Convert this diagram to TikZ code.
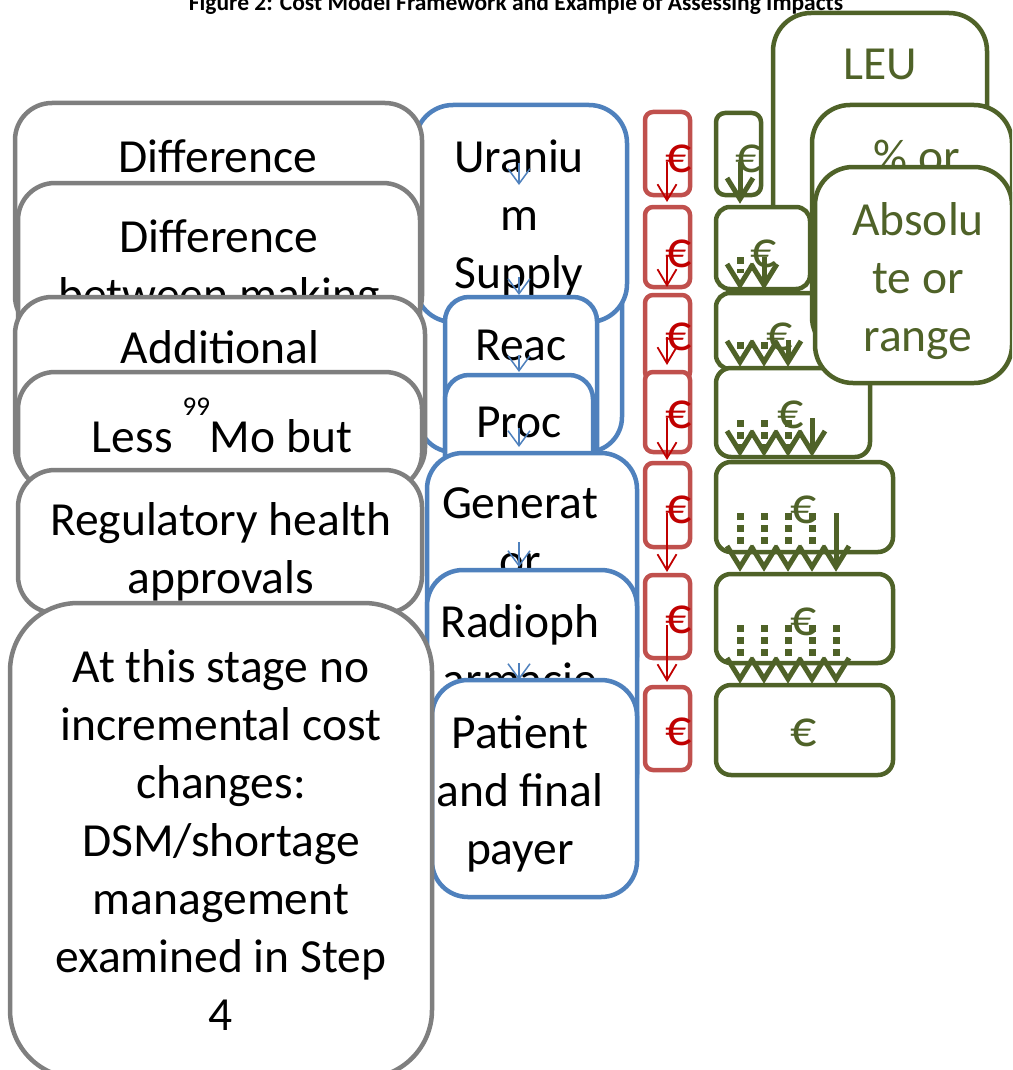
\documentclass[tikz,border=0pt]{standalone}
\usepackage{fontspec}
\setmainfont{Carlito}
\usetikzlibrary{arrows.meta}
\definecolor{grayb}{HTML}{7F7F7F}
\definecolor{blueb}{HTML}{4F81BD}
\definecolor{redb}{HTML}{C0504D}
\definecolor{redt}{HTML}{C00000}
\definecolor{greenb}{HTML}{4F6228}
\tikzset{
  bx/.style={draw, fill=white, line width=4.5pt, inner sep=0pt, outer sep=0pt, anchor=north west},
  graybox/.style={bx, draw=grayb},
  bluebox/.style={bx, draw=blueb},
  redbox/.style={bx, draw=redb},
  greenbox/.style={bx, draw=greenb},
  txt/.style={font=\fontsize{47.5}{58}\selectfont, align=center, anchor=base, inner sep=0pt},
  gtxt/.style={txt, text=greenb},
  eur/.style={txt, font=\fontsize{52}{58}\selectfont},
  geur/.style={eur, text=greenb},
  reur/.style={eur, text=redt},
  barrow/.style={draw=blueb, line width=1.5pt, -{Straight Barb[length=15pt,width=22pt]}},
  rarrow/.style={draw=redt, line width=1.8pt, -{Straight Barb[length=16pt,width=19pt]}},
  gline/.style={draw=greenb, line width=5pt},
  gdots/.style={draw=greenb, line width=7pt, dash pattern=on 7pt off 5pt},
  ghead/.style={draw=greenb, line width=5pt, line join=miter},
}
% box: name, style, left, top, width, height, corner radius
\newcommand\mybox[7]{\node[#2, minimum width=#5pt, minimum height=#6pt, rounded corners=#7pt] (#1) at (#3,#4) {};}
\newcommand\vhead[2]{\draw[ghead] (#1-13,#2-24) -- (#1,#2-3) -- (#1+13,#2-24);}
\begin{document}
\begin{tikzpicture}[x=1pt,y=-1pt]
\useasboundingbox (0,0) rectangle (1012,1070);
\clip (0,0) rectangle (1012,1070);
% title (cut at the top edge, as in the reference)
\node[font=\fontsize{23.5}{28}\selectfont\bfseries, anchor=base, inner sep=0pt] (title) at (516,11) {Figure 2: Cost Model Framework and Example of Assessing Impacts};

% ---------- blue column ----------
\mybox{hb}{bluebox}{418}{250}{204}{202}{35}
\mybox{b1}{bluebox}{415}{105}{212}{217}{38}
\node[txt] (b1t) at (519,288) {Uraniu\\m\\Supply};
\mybox{b2}{bluebox}{445}{297}{152}{183}{24}
\node[txt] (b2t) at (521,360) {Reac};
\mybox{b3}{bluebox}{445}{375}{148}{105}{24}
\node[txt] (b3t) at (519,437) {Proc};
\mybox{b4}{bluebox}{427}{453}{210}{240}{36}
\node[txt] (b4t) at (520,576) {Generat\\or};
\mybox{b5}{bluebox}{427}{570}{210}{240}{36}
\node[txt] (b5t) at (520,695) {Radioph\\armacie};
\mybox{b6}{bluebox}{432}{680}{205}{217}{36}
\node[txt] (b6t) at (520,864) {Patient\\and final\\payer};
\coordinate (ba1) at (519,163); \coordinate (bb1) at (519,185);
\coordinate (ba2) at (519,277); \coordinate (bb2) at (519,295);
\coordinate (ba3) at (519,355); \coordinate (bb3) at (519,372);
\coordinate (ba4) at (519,428); \coordinate (bb4) at (519,447);
\coordinate (ba5) at (519,542); \coordinate (bb5) at (519,567);
\coordinate (ba6) at (519,663); \coordinate (bb6) at (519,680);
\foreach \i in {1,...,6} \draw[barrow] (ba\i) -- (bb\i);

% ---------- gray column ----------
\mybox{g1}{graybox}{15}{103}{407}{230}{37}
\node[txt] (g1t) at (218,172) {Difference};
\mybox{g2}{graybox}{18}{183}{402}{230}{37}
\node[txt] (g2t) at (219,310) {Difference\\between making};
\mybox{g3}{graybox}{15}{297}{410}{188}{37}
\node[txt] (g3t) at (220,363) {Additional};
\mybox{g4}{graybox}{18}{372}{404}{118}{37}
\node[txt] (g4t) at (222,452) {Less\hspace{10pt}\raisebox{37pt}{\fontsize{27}{27}\selectfont 99}Mo but};
\mybox{g5}{graybox}{18}{470}{404}{143}{37}
\node[txt] (g5t) at (221,593) {Regulatory health\\approvals};
\mybox{g6}{graybox}{10}{603}{422}{475}{68}
\node[txt] (g6t) at (221,1030) {At this stage no\\incremental cost\\changes:\\DSM/shortage\\management\\examined in Step\\4};

% ---------- red column ----------
\mybox{r1}{redbox}{645}{112}{45}{83}{8}
\mybox{r2}{redbox}{645}{207}{45}{80}{8}
\mybox{r3}{redbox}{645}{295}{45}{85}{8}
\mybox{r4}{redbox}{645}{372}{45}{80}{8}
\mybox{r5}{redbox}{645}{463}{45}{84}{8}
\mybox{r6}{redbox}{645}{575}{45}{83}{8}
\mybox{r7}{redbox}{645}{687}{45}{83}{8}
\node[reur] (r1t) at (679,172) {€};
\node[reur] (r2t) at (679,267) {€};
\node[reur] (r3t) at (679,350) {€};
\node[reur] (r4t) at (679,428) {€};
\node[reur] (r5t) at (679,523) {€};
\node[reur] (r6t) at (679,633) {€};
\node[reur] (r7t) at (679,745) {€};
\coordinate (ra1) at (667,162); \coordinate (rb1) at (667,202);
\coordinate (ra2) at (667,255); \coordinate (rb2) at (667,287);
\coordinate (ra3) at (667,337); \coordinate (rb3) at (667,365);
\coordinate (ra4) at (667,418); \coordinate (rb4) at (667,460);
\coordinate (ra5) at (667,513); \coordinate (rb5) at (667,572);
\coordinate (ra6) at (667,625); \coordinate (rb6) at (667,682);
\foreach \i in {1,...,6} \draw[rarrow] (ra\i) -- (rb\i);

% ---------- green column ----------
\mybox{leu}{greenbox}{773}{13}{214}{240}{38}
\node[gtxt] (leut) at (880,80) {LEU};
\mybox{gr1}{greenbox}{716}{113}{45}{82}{9}
\mybox{gr2}{greenbox}{716}{207}{94}{82}{14}
\mybox{gr3}{greenbox}{716}{293}{124}{76}{14}
\mybox{gr4}{greenbox}{716}{368}{154}{89}{15}
\mybox{gr5}{greenbox}{716}{462}{177}{90}{15}
\mybox{gr6}{greenbox}{716}{574}{177}{89}{15}
\mybox{gr7}{greenbox}{716}{685}{177}{90}{15}
\node[geur] (gr1t) at (749,172) {€};
\node[geur] (gr2t) at (764,267) {€};
\node[geur] (gr3t) at (780,350) {€};
\node[geur] (gr4t) at (791,428) {€};
\node[geur] (gr5t) at (804,523) {€};
\node[geur] (gr6t) at (804,635) {€};
\node[geur] (gr7t) at (804,746) {€};
% dotted flows
\draw[gdots] (740,257) -- (740,273);
\foreach \p in {740,764} \draw[gdots] (\p,342) -- (\p,354);
\foreach \p in {740,764,788} \draw[gdots] (\p,420) -- (\p,451);
\foreach \p in {740,764,788,812} \draw[gdots] (\p,513) -- (\p,544);
\foreach \p in {740,764,788,812,836} \draw[gdots] (\p,625) -- (\p,656);
% solid flows
\coordinate (ga1) at (740,162); \coordinate (gb1) at (740,199);
\coordinate (ga2) at (764,257); \coordinate (gb2) at (764,285);
\coordinate (ga3) at (788,340); \coordinate (gb3) at (788,362);
\coordinate (ga4) at (812,418); \coordinate (gb4) at (812,452);
\coordinate (ga5) at (836,513); \coordinate (gb5) at (836,567);
\foreach \i in {1,...,5} \draw[gline] (ga\i) -- (gb\i);
% heads
\vhead{740}{202}
\foreach \p in {740,764} {\vhead{\p}{288}}
\foreach \p in {740,764,788} {\vhead{\p}{365}}
\foreach \p in {740,764,788,812} {\vhead{\p}{455}}
\foreach \p in {740,764,788,812,836} {\vhead{\p}{570}}
\foreach \p in {740,764,788,812,836} {\vhead{\p}{682}}

\mybox{pct}{greenbox}{812}{105}{200}{250}{38}
\node[gtxt] (pctt) at (917,172) {\% or};
\mybox{abs}{greenbox}{815}{167}{197}{216}{38}
\node[gtxt] (abst) at (918,351) {Absolu\\te or\\range};
\end{tikzpicture}
\end{document}
